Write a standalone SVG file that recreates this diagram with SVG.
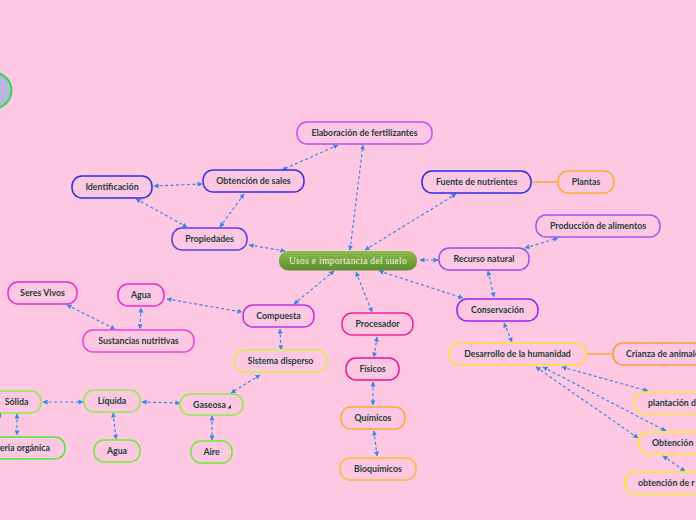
<svg xmlns="http://www.w3.org/2000/svg" width="696" height="520" viewBox="0 0 696 520">
<defs>
<linearGradient id="cg" x1="0" y1="0" x2="0" y2="1">
<stop offset="0" stop-color="#8cbc4c"/>
<stop offset="1" stop-color="#5c8c2c"/>
</linearGradient>
<marker id="ah" viewBox="0 0 6 6" refX="5.5" refY="3" markerWidth="5" markerHeight="5" markerUnits="userSpaceOnUse" orient="auto-start-reverse">
<path d="M0,0 L6,3 L0,6 z" fill="#3a86e6"/>
</marker>
</defs>
<style>
.n rect{fill:#fec8e2;stroke-width:1.5}
.n text{font-family:Lato,"Open Sans","Liberation Sans",sans-serif;font-weight:bold;font-size:8.8px;fill:#1f3b3b;text-anchor:middle}
.n text.l{text-anchor:start}
.c path{fill:none;stroke:#3a86e6;stroke-width:1.2;stroke-dasharray:3 2.5;marker-start:url(#ah);marker-end:url(#ah)}
.s{fill:none;stroke-width:1.5}
</style>
<rect width="696" height="520" fill="#fec8e2"/>
<ellipse cx="-8" cy="90.5" rx="19.5" ry="18.5" fill="#b8b8dc" stroke="#22dd55" stroke-width="2"/>

<g id="connectors">
<g class="c">
<path d="M350,250 L363,145"/>
<path d="M338,145 L282,170"/>
<path d="M154,186 L202,184"/>
<path d="M136,199 L187,227"/>
<path d="M244,194 L220,227"/>
<path d="M249,245 L285,251"/>
<path d="M365,250 L456,194"/>
<path d="M420,260 L438,260"/>
<path d="M525,248 L558,238"/>
<path d="M488,271 L494,297"/>
<path d="M379,271 L463,298"/>
<path d="M504,323 L512,342"/>
<path d="M562,367 L648,391"/>
<path d="M543,367 L666,431"/>
<path d="M536,367 L638,438"/>
<path d="M663,456 L685,471"/>
<path d="M356,272 L372,312"/>
<path d="M377,337 L374,357"/>
<path d="M373,382 L373,405"/>
<path d="M374,431 L377,456"/>
<path d="M334,271 L294,304"/>
<path d="M167,299 L242,312"/>
<path d="M67,305 L115,329"/>
<path d="M141,308 L140,329"/>
<path d="M280,329 L281,350"/>
<path d="M260,375 L231,393"/>
<path d="M43,402 L83,402"/>
<path d="M142,402 L180,403"/>
<path d="M113,413 L116,439"/>
<path d="M212,416 L212,440"/>
<path d="M17,414 L17,435"/>
<path d="M1,413 L-6,425"/>
</g>
<path class="s" d="M531,182 L558,182" stroke="#ffaa33"/>
<path class="s" d="M586,354 L613,354" stroke="#ffaa44"/>
</g>

<g id="center">
<rect x="279" y="251" width="138" height="19.5" rx="9" fill="url(#cg)"/>
<text x="348" y="264" font-family="'Liberation Serif',serif" font-size="9.5" fill="#eef4e2" text-anchor="middle" letter-spacing="0.3">Usos e importancia del suelo</text>
</g>

<g id="elab" class="n"><rect x="297" y="122" width="135" height="22" rx="10" stroke="#c84cf0"/><text x="364.5" y="136">Elaboración de fertilizantes</text></g>
<g id="sales" class="n"><rect x="203" y="170" width="101" height="22" rx="10" stroke="#3a2cf0"/><text x="253.5" y="184">Obtención de sales</text></g>
<g id="ident" class="n"><rect x="72" y="176" width="80" height="22" rx="10" stroke="#2a2cf0"/><text x="112" y="190">Identificación</text></g>
<g id="prop" class="n"><rect x="172" y="228" width="75" height="22" rx="10" stroke="#5a3cf0"/><text x="209.5" y="242">Propiedades</text></g>
<g id="fuente" class="n"><rect x="422" y="171" width="109" height="22" rx="10" stroke="#2c2cf0"/><text x="476.5" y="185">Fuente de nutrientes</text></g>
<g id="plantas" class="n"><rect x="558" y="171" width="56" height="22" rx="10" stroke="#ffaa33"/><text x="586" y="185">Plantas</text></g>
<g id="prodali" class="n"><rect x="536" y="215" width="124" height="22" rx="10" stroke="#a855f0"/><text x="598" y="229">Producción de alimentos</text></g>
<g id="recurso" class="n"><rect x="439" y="248" width="90" height="22" rx="10" stroke="#9a4cf0"/><text x="484" y="262">Recurso natural</text></g>
<g id="seres" class="n"><rect x="8" y="282" width="69" height="22" rx="10" stroke="#ee2ad0"/><text x="42.5" y="296">Seres Vivos</text></g>
<g id="agua1" class="n"><rect x="118" y="284" width="46" height="22" rx="10" stroke="#ee2ad0"/><text x="141" y="298">Agua</text></g>
<g id="compuesta" class="n"><rect x="243" y="305" width="71" height="22" rx="10" stroke="#c82ce0"/><text x="278.5" y="319">Compuesta</text></g>
<g id="sustancias" class="n"><rect x="83" y="330" width="111" height="22" rx="10" stroke="#f040d8"/><text x="138.5" y="344">Sustancias nutritivas</text></g>
<g id="sistema" class="n"><rect x="234" y="350" width="93" height="22" rx="10" stroke="#d4ee44"/><text x="280.5" y="364">Sistema disperso</text></g>
<g id="solida" class="n"><rect x="-8" y="391" width="49" height="22" rx="10" stroke="#88ee44"/><text x="16.5" y="405">Sólida</text></g>
<g id="materia" class="n"><rect x="-31" y="437" width="96" height="22" rx="10" stroke="#44ee33"/><text x="17" y="451">Materia orgánica</text></g>
<g id="liquida" class="n"><rect x="84" y="390" width="56" height="22" rx="10" stroke="#88ee44"/><text x="112" y="404">Líquida</text></g>
<g id="gaseosa" class="n"><rect x="180" y="394" width="63" height="21" rx="10" stroke="#88ee44"/><text x="209.5" y="407.5">Gaseosa</text><path d="M227.5,408.5 L231,408.5 L231,404.5 z" fill="#1f3b3b"/></g>
<g id="agua2" class="n"><rect x="94" y="440" width="46" height="22" rx="10" stroke="#66ee33"/><text x="117" y="454">Agua</text></g>
<g id="aire" class="n"><rect x="191" y="441" width="41" height="22" rx="10" stroke="#66ee33"/><text x="211.5" y="455">Aire</text></g>
<g id="procesador" class="n"><rect x="342" y="313" width="71" height="22" rx="10" stroke="#ee2299"/><text x="377.5" y="327">Procesador</text></g>
<g id="fisicos" class="n"><rect x="346" y="358" width="53" height="22" rx="10" stroke="#ee1199"/><text x="372.5" y="372">Físicos</text></g>
<g id="quimicos" class="n"><rect x="341" y="407" width="64" height="22" rx="10" stroke="#ffaa33"/><text x="373" y="421">Químicos</text></g>
<g id="bioquimicos" class="n"><rect x="340" y="458" width="76" height="22" rx="10" stroke="#ffbb33"/><text x="378" y="472">Bioquímicos</text></g>
<g id="conservacion" class="n"><rect x="457" y="299" width="81" height="22" rx="10" stroke="#9922ee"/><text x="497.5" y="313">Conservación</text></g>
<g id="desarrollo" class="n"><rect x="449" y="343" width="137" height="22" rx="10" stroke="#ffdd33"/><text x="517.5" y="357">Desarrollo de la humanidad</text></g>
<g id="crianza" class="n"><rect x="613" y="343" width="120" height="22" rx="10" stroke="#ff9933"/><text class="l" x="626" y="357">Crianza de animales</text></g>
<g id="plantacion" class="n"><rect x="634" y="392" width="110" height="22" rx="10" stroke="#ffe833"/><text class="l" x="648" y="406">plantación de</text></g>
<g id="obtencion" class="n"><rect x="639" y="432" width="100" height="22" rx="10" stroke="#ffee22"/><text class="l" x="652" y="446">Obtención</text></g>
<g id="obtencionr" class="n"><rect x="625" y="472" width="120" height="22" rx="10" stroke="#eeee22"/><text class="l" x="638" y="486">obtención de r</text></g>
</svg>
